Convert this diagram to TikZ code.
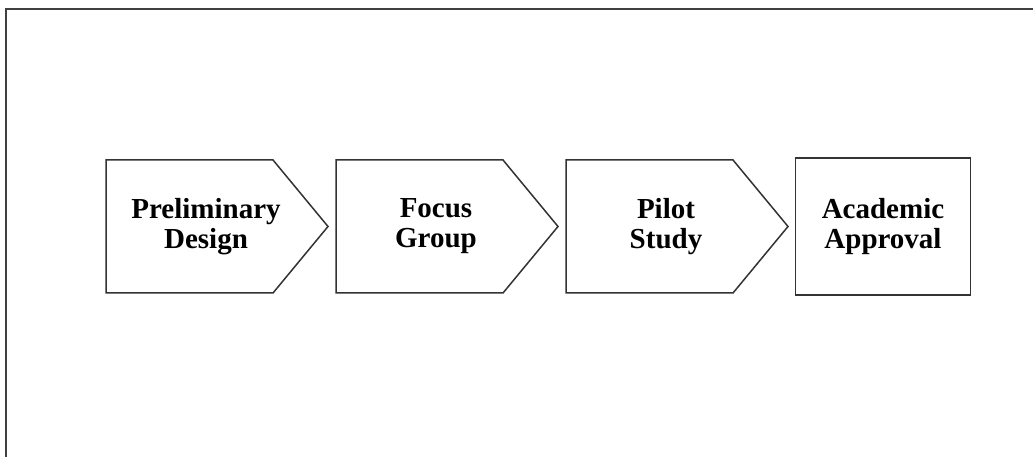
\documentclass[tikz,border=0pt]{standalone}
\usepackage{fontspec}
\setmainfont{Liberation Serif}
\usetikzlibrary{positioning}

\begin{document}
\begin{tikzpicture}[x=1pt,y=1pt,node distance=230pt,
    stage/.style={font=\bfseries\fontsize{29}{30}\selectfont, align=center},
    outline/.style={draw=black!80, line width=1.5pt, line join=miter}]
  \useasboundingbox (0,0) rectangle (1033,457);
  % frame around the page (only top and left edges fall inside)
  \draw[black!75, line width=2.6pt] (6,0) |- (1033,448);

  \node[stage]                     (prelim)   at (206,230.5)              {Preliminary\\Design};
  \node[stage]                     (focus)    [right of=prelim]           {Focus\\Group};
  \node[stage]                     (pilot)    [right of=focus]            {Pilot\\Study};
  \node[stage, outline, minimum width=175pt, minimum height=137pt]
                                   (approval) [right of=pilot, node distance=217pt] {Academic\\Approval};

  % arrow shaped boxes round the first three stages
  \draw[outline] ([shift={(-100,66.5)}]prelim.center) -- ++(167,0) -- ++(55,-66.5) -- ++(-55,-66.5) -- ++(-167,0) -- cycle;
  \draw[outline] ([shift={(-100,66.5)}]focus.center)  -- ++(167,0) -- ++(55,-66.5) -- ++(-55,-66.5) -- ++(-167,0) -- cycle;
  \draw[outline] ([shift={(-100,66.5)}]pilot.center)  -- ++(167,0) -- ++(55,-66.5) -- ++(-55,-66.5) -- ++(-167,0) -- cycle;
\end{tikzpicture}
\end{document}
